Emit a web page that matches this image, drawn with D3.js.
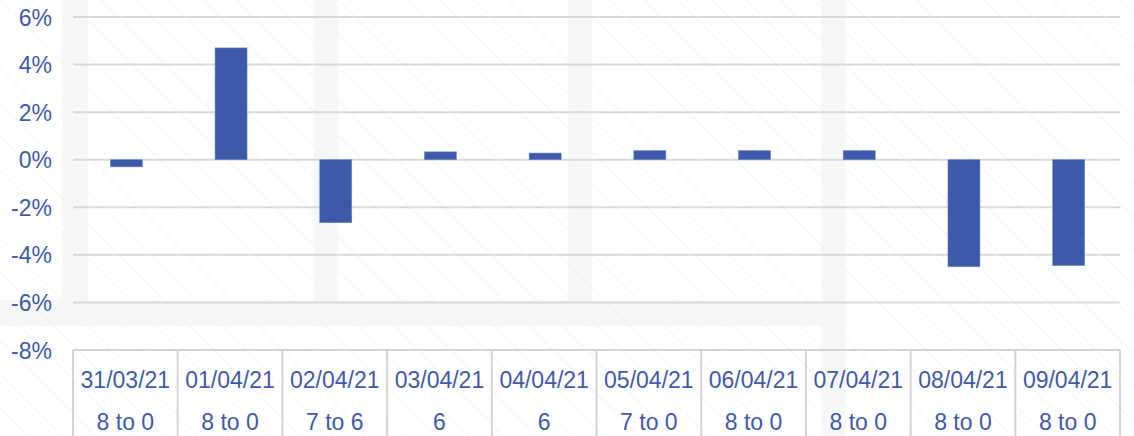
<!DOCTYPE html>
<html><head><meta charset="utf-8">
<script src="https://cdn.jsdelivr.net/npm/d3@7"></script>
<style>body{margin:0;background:#fff;}svg{display:block;}</style>
</head><body>
<script>
const dates = ["31/03/21","01/04/21","02/04/21","03/04/21","04/04/21","05/04/21","06/04/21","07/04/21","08/04/21","09/04/21"];
const subLabels = ["8 to 0","8 to 0","7 to 6","6","6","7 to 0","8 to 0","8 to 0","8 to 0","8 to 0"];
const values = [-0.3, 4.7, -2.65, 0.33, 0.28, 0.38, 0.38, 0.38, -4.5, -4.45];
const yTicks = [6,4,2,0,-2,-4,-6,-8];

const W = 1134, H = 436;
const svg = d3.select("body").append("svg").attr("width", W).attr("height", H);
const defs = svg.append("defs");
const pat = defs.append("pattern").attr("id","diag").attr("patternUnits","userSpaceOnUse")
  .attr("width",24).attr("height",24).attr("patternTransform","rotate(45)");
pat.append("line").attr("x1",0).attr("y1",0).attr("x2",24).attr("y2",0)
  .attr("stroke","#e3f3f5").attr("stroke-width",1.2);
svg.append("rect").attr("width",W).attr("height",H).attr("fill","url(#diag)");

// watermark bands
const bandG = svg.append("g").attr("fill","#f2f2f2").attr("opacity",0.6);
[[62,0,26,300],[314,0,24,300],[568,0,24,300],[821,0,24,436],[0,300,821,26]].forEach(b=>{
  bandG.append("rect").attr("x",b[0]).attr("y",b[1]).attr("width",b[2]).attr("height",b[3]);
});

const x = d3.scaleBand().domain(dates).range([73,1120]).paddingInner(0).paddingOuter(0);
const y = d3.scaleLinear().domain([-8,6]).range([350,17]);
const blue = "#3F5AA8";
const font = "Liberation Sans, Arial, sans-serif";

// gridlines
svg.append("g").selectAll("line").data(yTicks.filter(t=>t>-8)).join("line")
  .attr("x1",73).attr("x2",1120).attr("y1",d=>y(d)).attr("y2",d=>y(d))
  .attr("stroke","#d9d9d9").attr("stroke-width",2);

// y labels
const yAxis = d3.axisLeft(y).tickValues(yTicks).tickFormat(d=>d+"%").tickSize(0).tickPadding(0);
const ya = svg.append("g").attr("transform","translate(52,0)").call(yAxis);
ya.select(".domain").remove();
ya.selectAll("text").attr("fill",blue).attr("font-family",font)
  .attr("font-size",23).attr("dy","0.35em");

// bars
const bw = 32;
svg.append("g").selectAll("rect").data(values).join("rect")
  .attr("x",(d,i)=>x(dates[i])+x.bandwidth()/2-bw/2+1)
  .attr("width",bw)
  .attr("y",d=>y(Math.max(0,d)))
  .attr("height",d=>Math.abs(y(d)-y(0)))
  .attr("fill","#3D5AA9").attr("stroke","#6f86c4").attr("stroke-width",0.6);

// category table
const tg = svg.append("g").attr("stroke","#d4d4d4").attr("stroke-width",2);
tg.append("line").attr("x1",73).attr("x2",1120).attr("y1",350).attr("y2",350);
const edges = dates.map(d=>x(d)).concat([1120]);
tg.selectAll("line.v").data(edges).join("line").attr("class","v")
  .attr("x1",d=>d).attr("x2",d=>d).attr("y1",350).attr("y2",H);

const lg = svg.append("g").attr("fill",blue).attr("font-family",font)
  .attr("font-size",23).attr("text-anchor","middle");
lg.selectAll("text.d").data(dates).join("text").attr("class","d")
  .attr("x",d=>x(d)+x.bandwidth()/2).attr("y",388).text(d=>d);
lg.selectAll("text.s").data(subLabels).join("text").attr("class","s")
  .attr("x",(d,i)=>x(dates[i])+x.bandwidth()/2).attr("y",430).text(d=>d);
</script>
</body></html>
